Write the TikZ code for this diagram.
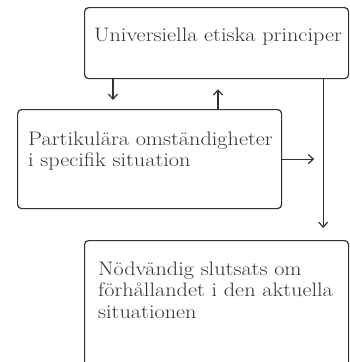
\documentclass[tikz,border=0pt]{standalone}
\usepackage{fontspec}
\setmainfont[FakeStretch=1.14]{Latin Modern Roman}
\usetikzlibrary{arrows.meta}
\definecolor{ink}{HTML}{333333}
\begin{document}
\begin{tikzpicture}[x=1pt,y=-1pt,
  box/.style={draw=ink, line width=1.2pt, rounded corners=4pt, inner sep=0pt, anchor=north west},
  txt/.style={text=ink, inner sep=0pt, anchor=base west, align=left,
    font=\fontsize{19.5}{21.5}\selectfont},
  arr/.style={draw=ink, line width=1.2pt, -{Straight Barb[length=5pt,width=9pt]}}]
  \useasboundingbox (0,0) rectangle (349,362);
  \clip (0,0) rectangle (349,362);
  % boxes
  \node[box, minimum width=264pt, minimum height=71pt] (uni) at (84,7) {};
  \node[box, minimum width=264pt, minimum height=99pt] (part) at (17,109) {};
  \node[box, minimum width=264pt, minimum height=140pt] (nod) at (84,240) {};
  % texts (base anchor sits on the last line)
  \node[txt] (unitxt) at (94,41) {Universiella etiska principer};
  \node[txt] (parttxt) at (28,166.5) {Partikulära omständigheter\\i specifik situation};
  \node[txt] (nodtxt) at (98,318) {Nödvändig slutsats om\\förhållandet i den aktuella\\situationen};
  % connectors
  \coordinate (downend) at ([xshift=96pt,yshift=9pt]part.north west);
  \draw[arr] (uni.south west -| downend) -- (downend);
  \coordinate (upend) at ([xshift=134pt,yshift=-10pt]uni.south west);
  \draw[arr] (part.north west -| upend) -- (upend);
  \coordinate (rightend) at ([xshift=32pt]part.east);
  \draw[arr] (part.east) -- (rightend);
  \coordinate (longend) at ([xshift=-26pt,yshift=12pt]nod.north east);
  \draw[arr] (uni.south east -| longend) -- (longend);
\end{tikzpicture}
\end{document}
